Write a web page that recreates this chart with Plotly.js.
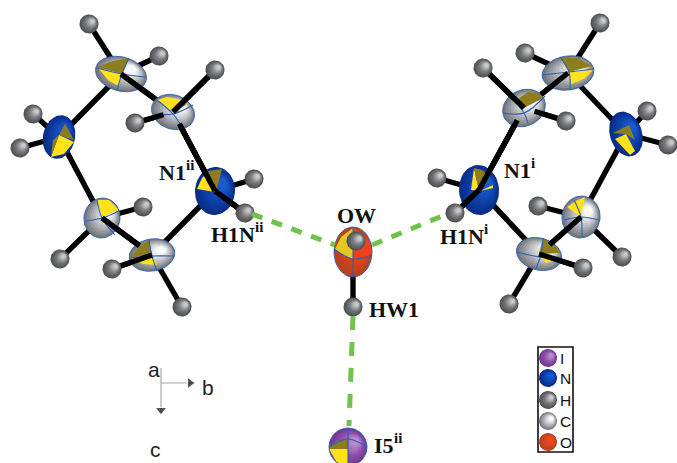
<!DOCTYPE html>
<html><head><meta charset="utf-8">
<script src="https://cdn.plot.ly/plotly-3.0.1.min.js"></script>
<style>html,body{margin:0;padding:0;background:#fff}#p{width:677px;height:463px}</style>
</head><body><div id="p"></div>
<script>
// Thermal-ellipsoid atoms
const atomNames=['C1a','C2a','N2a','C3a','C4a','N1a','C1b','C2b','N2b','C3b','C4b','N1b','OW','I5'];
const atomX=[121,173,59,102,152,215,568,524,626,581,539,479,353,348];
const atomY=[74,112,137,218,255,191,73,108,134,217,254,190,252,447];
const atomRx=[26,22,16,18,23,20,26,22,16,19,23,20,19,19];
const atomRy=[17,17,22,20,16,24,17,18,23,21,16,25,25,19];
const atomTilt=[15,20,12,10,-10,5,-8,-25,-18,10,15,-5,0,0];
const atomKind=['C','C','N','C','C','N','C','C','N','C','C','N','O','I'];
// Hydrogen atoms
const hNames=['Ha1','Ha2','Ha3','Ha4','Ha5','Ha6','Ha7','Ha8','Ha9','Ha10','Ha11','H1Na','Hb1','Hb2','Hb3','Hb4','Hb5','Hb6','Hb7','Hb8','Hb9','Hb10','Hb11','H1Nb','HO','HW1'];
const hX=[89,159,215,135,33,20,143,60,112,182,254,245,600,525,483,566,647,668,538,622,583,509,437,455,356,353];
const hY=[24,56,70,123,114,148,207,259,269,307,179,213,23,53,68,121,111,145,206,257,268,304,178,213,241,307];
// Bonds
const bondFrom=['C1a','C1a','C1a','C1a','C2a','C2a','C2a','N2a','N2a','N2a','C3a','C3a','C3a','C4a','C4a','C4a','N1a','N1a','N1a','C1b','C1b','C1b','C1b','C2b','C2b','C2b','N2b','N2b','N2b','C3b','C3b','C3b','C4b','C4b','C4b','N1b','N1b','N1b','OW','OW'];
const bondTo=['Ha1','Ha2','C2a','N2a','Ha3','Ha4','N1a','Ha5','Ha6','C3a','Ha7','Ha8','C4a','Ha9','Ha10','N1a','Ha11','H1Na','C2a','Hb1','Hb2','C2b','N2b','Hb3','Hb4','N1b','Hb5','Hb6','C3b','Hb7','Hb8','C4b','Hb9','Hb10','N1b','Hb11','H1Nb','C2b','HO','HW1'];
// Bonds lying partly on top of an ellipsoid: start atom, end atom, drawn fraction
const overFrom=['C1a','Ha3','Ha4','N1a','N1a','C3a','C4a','C1b','Hb3','Hb4','N1b','N1b','C3b','C4b'];
const overTo=['C2a','C2a','C2a','C2a','H1Na','C4a','Ha9','C2b','C2b','C2b','C2b','H1Nb','C4b','Hb9'];
const overFrac=[0.65,1,0.75,0.85,1,0.75,1,0.6,1,0.75,0.85,1,0.75,1];
// Hydrogen-bond dashes
const hbX=[[252,335],[372,447],[353,349]];
const hbY=[[214,245],[245,214],[316,426]];
// Octant wedges: atom, colour, vertices relative to the atom
const wedgeAtom=['C1a','C1a','C2a','C2a','N2a','N2a','N2a','C3a','C4a','C4a','N1a','N1a','C1b','C1b','C2b','N2b','N2b','C3b','C4b','C4b','N1b','N1b','N1b','OW','OW','I5','I5'];
const wedgeKind=['olive','yellow','yellow','olive','yellow','olive','olive','yellow','olive','yellow','yellow','olive','olive','yellow','olive','olive','yellow','yellow','olive','yellow','yellow','olive','yellow','mustard','red','olive','yellow'];
const wedgeVerts=[
[[-23,-7],[-8,-13],[8,-16],[1,0]],[[-23,-6],[1,0],[-2,12],[-12,7]],
[[-16,-12],[-6,-15],[9,-12],[0,0]],[[9,-12],[13,-7],[0,0]],
[[0,-2],[15,5],[5,17],[-8,20]],[[0,-2],[6,-13],[15,3]],[[0,-2],[-8,19],[-6,3]],
[[0,-1],[-5,-18],[7,-18],[17,-8]],
[[-21,2],[-12,-9],[-3,-15],[0,0]],[[-21,3],[0,0],[5,10],[-9,9]],
[[-18,-2],[-13,-13],[-7,-19],[0,1]],[[-7,-20],[7,-22],[1,1]],
[[-8,-16],[10,-15],[24,-7],[1,-1]],[[1,-1],[25,-3],[16,6],[3,11]],
[[-9,-7],[4,-16],[14,-15],[19,-10],[0,0]],
[[-13,-1],[3,-9],[9,6],[0,0]],[[-11,5],[0,0],[9,17],[4,21]],
[[-14,-10],[-5,-16],[4,-20],[0,0]],
[[4,-16],[15,-10],[21,-1],[0,0]],[[0,0],[21,3],[14,7],[7,9]],
[[-5,-22],[0,1],[-8,0]],[[-5,-22],[3,-20],[11,-13],[0,1]],[[1,1],[14,-2],[14,-5]],
[[-18,-3],[-12,-15],[0,-24],[0,7],[-9,4]],[[0,-24],[11,-17],[19,-7],[19,3],[0,7]],
[[-19,0],[-11,-6],[0,-8],[0,2],[-19,2]],[[-19,2],[0,2],[0,19],[-11,16]]
];
// Principal-plane rings: atom, three points relative to the atom
const ringAtom=['C1a','C1a','C2a','C2a','C3a','C3a','C4a','C4a','C1b','C1b','C2b','C2b','C3b','C3b','C4b','C4b','OW','OW','I5','I5'];
const ringVerts=[
[[8,-16],[1,0],[-4,16]],[[-24,-6],[1,0],[24,3]],[[-16,-12],[0,2],[9,15]],[[-18,2],[0,2],[20,-7]],
[[-5,-18],[0,0],[13,17]],[[-16,3],[0,0],[17,-7]],[[-3,-15],[0,1],[5,16]],[[-22,3],[0,1],[22,1]],
[[-8,-16],[1,-1],[2,17]],[[-26,2],[1,-1],[26,-4]],[[-9,-7],[0,5],[4,15]],[[-21,5],[0,5],[21,-12]],
[[-7,-17],[0,0],[1,20]],[[-17,3],[0,0],[18,3]],[[4,-16],[2,1],[-3,14]],[[-22,-2],[1,3],[22,3]],
[[0,-24],[0,7],[0,25]],[[-19,-3],[0,7],[19,3]],[[0,-19],[0,0],[0,19]],[[-19,0],[0,-8],[19,0]]
];
// Atom labels and their symmetry superscripts
const labelText=['N1','H1N','OW','HW1','N1','H1N','I5'];
const labelX=[157,209,335,367,502,438,372];
const labelY=[172,234,215,309,170,236,445];
const supText=['ii','ii','i','i','ii'];
const supX=[184,253,529,482,392];
const supY=[165,227,163,229,438];
// Legend
const legendElems=['I','N','H','C','O'];
const legendKinds=['I','N','H','C','O'];
const legendY=[358,378,400,421,442];
const legendX=548;
// Axis triad
const triadLabels=['a','b','c'];
const triadX=[154,208,155];
const triadY=[369,387,463];
const arrowX=[[161,161],[161,195]];
const arrowY=[[368,412],[383,383]];

const palette={
 C:{edge:'#74787e',mid:'#bcc0c3',top:'#fafafa'},
 N:{edge:'#0a2d88',mid:'#0f43ad',top:'#1b5ad0'},
 O:{edge:'#b8401c',mid:'#d8451f',top:'#f04a20'},
 I:{edge:'#6f3a91',mid:'#8f52ad',top:'#b98bcc'},
 H:{edge:'#4f5154',mid:'#77797b',top:'#c8c9ca'}
};
const wedgeColor={olive:'#8e7d1c',yellow:'#ffe21a',mustard:'#e4c81f',red:'#f2401e'};
const bondBlack='#000000', ringBlue='#2f5fb0', hbGreen='#6fc24b';

const pos={};
atomNames.forEach((n,i)=>pos[n]=[atomX[i],atomY[i]]);
hNames.forEach((n,i)=>pos[n]=[hX[i],hY[i]]);
const hex=c=>[1,3,5].map(i=>parseInt(c.substr(i,2),16));
const mix=(a,b,t)=>{const A=hex(a),B=hex(b);return 'rgb('+A.map((v,i)=>Math.round(v+(B[i]-v)*t)).join(',')+')';};
const ramp=(p,t)=>t<0.5?mix(p.edge,p.mid,t*2):mix(p.mid,p.top,(t-0.5)*2);
const traces=[];
const line=(x,y,c,w,extra)=>traces.push({type:'scatter',mode:'lines',x,y,hoverinfo:'skip',showlegend:false,line:Object.assign({color:c,width:w},extra||{})});
const poly=(x,y,c)=>traces.push({type:'scatter',mode:'lines',x,y,fill:'toself',fillcolor:c,hoverinfo:'skip',showlegend:false,line:{width:0,color:c}});
function ellipse(cx,cy,rx,ry,deg){
  const t=deg*Math.PI/180,xs=[],ys=[];
  for(let k=0;k<=48;k++){const a=k/48*2*Math.PI;
    xs.push(cx+rx*Math.cos(t)*Math.cos(a)-ry*Math.sin(t)*Math.sin(a));
    ys.push(cy+rx*Math.sin(t)*Math.cos(a)+ry*Math.cos(t)*Math.sin(a));}
  return [xs,ys];
}
function ball(cx,cy,rx,ry,deg,kind){
  const p=palette[kind],L=10;
  for(let i=0;i<L;i++){const u=i/L,f=1-u*0.88;
    const e=ellipse(cx+rx*0.42*u,cy-ry*0.32*u,rx*f,ry*f,deg);
    poly(e[0],e[1],ramp(p,Math.min(1,u*1.15)));}
}
// bonds under ellipsoids
bondFrom.forEach((a,i)=>{const A=pos[a],B=pos[bondTo[i]];line([A[0],B[0]],[A[1],B[1]],bondBlack,5.4);});
// ellipsoids
atomNames.forEach((n,i)=>ball(atomX[i],atomY[i],atomRx[i],atomRy[i],atomTilt[i],atomKind[i]));
// wedges
wedgeAtom.forEach((n,i)=>{const c=pos[n],v=wedgeVerts[i];
  poly(v.map(q=>c[0]+q[0]).concat(c[0]+v[0][0]),v.map(q=>c[1]+q[1]).concat(c[1]+v[0][1]),wedgeColor[wedgeKind[i]]);});
// rings
ringAtom.forEach((n,i)=>{const c=pos[n],v=ringVerts[i];
  line(v.map(q=>c[0]+q[0]),v.map(q=>c[1]+q[1]),ringBlue,1.1,{shape:'spline'});});
atomNames.forEach((n,i)=>{if(atomKind[i]==='C'||atomKind[i]==='O'||atomKind[i]==='I'){
  const e=ellipse(atomX[i],atomY[i],atomRx[i],atomRy[i],atomTilt[i]);line(e[0],e[1],ringBlue,0.9);}});
// bonds on top
overFrom.forEach((a,i)=>{const A=pos[a],B=pos[overTo[i]],t=overFrac[i];
  line([A[0],A[0]+(B[0]-A[0])*t],[A[1],A[1]+(B[1]-A[1])*t],bondBlack,5.4);});
// hydrogens
hNames.forEach((n,i)=>ball(hX[i],hY[i],9.5,9.5,0,'H'));
// hydrogen bonds
hbX.forEach((x,i)=>line(x,hbY[i],hbGreen,5,{dash:i===2?'14px,12px':'11px,10px'}));
// legend balls
legendKinds.forEach((k,i)=>ball(legendX,legendY[i],9,9,0,k));
// triad
arrowX.forEach((x,i)=>line(x,arrowY[i],'#a8a8a8',1.2));
traces.push({type:'scatter',mode:'markers',x:[161,190],y:[410,383],hoverinfo:'skip',showlegend:false,
  marker:{symbol:['triangle-down','triangle-right'],size:[10,10],color:'#111'}});

const anns=[];
labelText.forEach((t,i)=>anns.push({x:labelX[i],y:labelY[i],text:t,showarrow:false,xanchor:'left',yanchor:'middle',
  font:{family:'Liberation Serif',size:22,weight:'bold',color:'#111'},xref:'x',yref:'y'}));
supText.forEach((t,i)=>anns.push({x:supX[i],y:supY[i],text:t,showarrow:false,xanchor:'left',yanchor:'middle',
  font:{family:'Liberation Serif',size:15,weight:'bold',color:'#111'},xref:'x',yref:'y'}));
legendElems.forEach((t,i)=>anns.push({x:558,y:legendY[i],text:t,showarrow:false,xanchor:'left',yanchor:'middle',
  font:{family:'Liberation Sans',size:15.5,color:'#111'},xref:'x',yref:'y'}));
triadLabels.forEach((t,i)=>anns.push({x:triadX[i],y:triadY[i],text:t,showarrow:false,xanchor:'center',yanchor:i===2?'bottom':'middle',
  font:{family:'Liberation Sans',size:21,color:'#222'},xref:'x',yref:'y'}));

Plotly.newPlot('p',traces,{
  width:677,height:463,autosize:false,margin:{l:0,r:0,t:0,b:0,pad:0},
  paper_bgcolor:'#fff',plot_bgcolor:'#fff',showlegend:false,
  xaxis:{range:[0,677],visible:false,fixedrange:true},
  yaxis:{range:[463,0],visible:false,fixedrange:true},
  annotations:anns,
  shapes:[{type:'rect',xref:'x',yref:'y',x0:538,x1:573,y0:347,y1:452,line:{color:'#111',width:1.6},fillcolor:'rgba(0,0,0,0)',layer:'below'}]
},{staticPlot:true,displayModeBar:false});
</script></body></html>
